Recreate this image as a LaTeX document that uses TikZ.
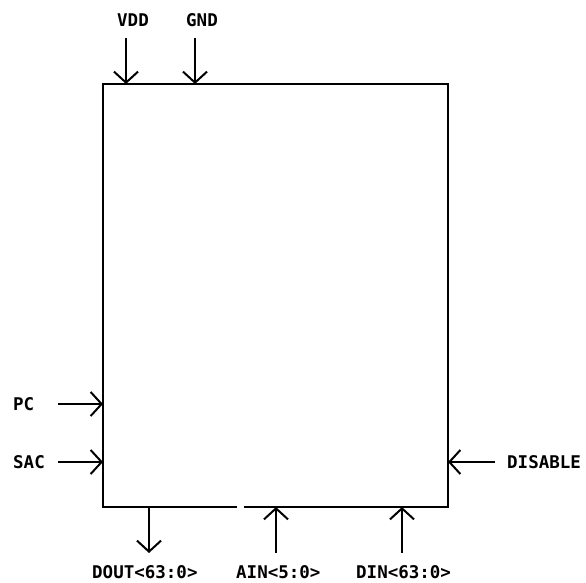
\documentclass[tikz,border=0pt]{standalone}
\usepackage{fontspec}
\setmonofont{DejaVu Sans Mono}
\usetikzlibrary{positioning, arrows.meta, calc}

\begin{document}
\begin{tikzpicture}[
  x=1pt, y=-1pt,
  font=\ttfamily\bfseries\fontsize{17.5}{20}\selectfont,
  pin/.style={inner sep=0pt, anchor=west},
  sig/.style={-{Straight Barb[length=11pt, width=24pt, line width=2pt]}, line width=2.4pt}
]
  \useasboundingbox (0,0) rectangle (586,583);

  % memory block outline (small break on the bottom edge)
  \coordinate (nw) at (103,84);
  \coordinate (ne) at (448,84);
  \coordinate (sw) at (103,507);
  \coordinate (se) at (448,507);
  \draw[line width=2.8pt, line join=miter]
    (237,507) -- (sw) -- (nw) -- (ne) -- (se) -- (244,507);

  % labels
  \node[pin, anchor=center] (vdd) at (133,20) {VDD};
  \node[pin, anchor=center] (gnd) at (202,20) {GND};
  \node[pin] (pc)  at (13,404) {PC};
  \node[pin] (sac) at (13,462) {SAC};
  \node[pin] (dis) at (507,462) {DISABLE};
  \node[pin] (dout) at (92,572) {DOUT<63:0>};
  \node[pin] (ain)  at (236,572) {AIN<5:0>};
  \node[pin] (din)  at (356,572) {DIN<63:0>};

  % pin ends on the block
  \coordinate (vddT) at (126,38);  \coordinate (vddB) at (126,84);
  \coordinate (gndT) at (195,38);  \coordinate (gndB) at (195,84);
  \coordinate (pcL)  at (58,404);  \coordinate (pcB)  at (103,404);
  \coordinate (sacL) at (58,462);  \coordinate (sacB) at (103,462);
  \coordinate (disR) at (495,462); \coordinate (disB) at (448,462);
  \coordinate (doutB) at (149,507); \coordinate (doutE) at (149,553);
  \coordinate (ainE)  at (276,553); \coordinate (ainB)  at (276,507);
  \coordinate (dinE)  at (402,553); \coordinate (dinB)  at (402,507);

  \draw[sig] (vddT) -- (vddB);
  \draw[sig] (gndT) -- (gndB);
  \draw[sig] (pcL)  -- (pcB);
  \draw[sig] (sacL) -- (sacB);
  \draw[sig] (disR) -- (disB);
  \draw[sig] (doutB) -- (doutE);
  \draw[sig] (ainE) -- (ainB);
  \draw[sig] (dinE) -- (dinB);
\end{tikzpicture}
\end{document}
